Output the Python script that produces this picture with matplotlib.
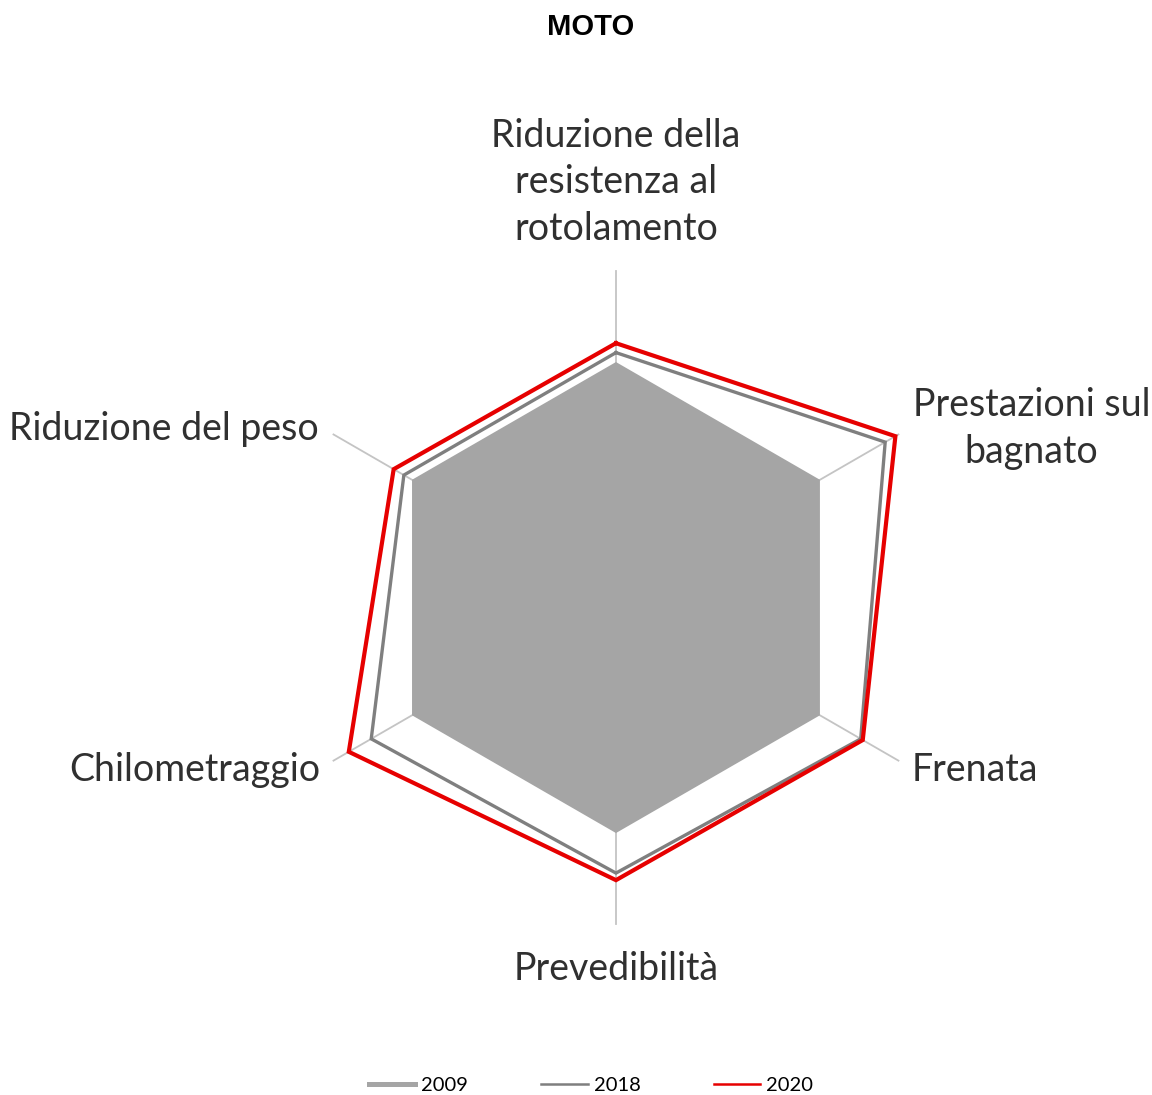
import matplotlib
matplotlib.use("Agg")
import matplotlib.pyplot as plt
import numpy as np
from matplotlib.lines import Line2D

# categories, clockwise from the top
categories = [
    "Riduzione della\nresistenza al\nrotolamento",
    "Prestazioni sul\nbagnato",
    "Frenata",
    "Prevedibilità",
    "Chilometraggio",
    "Riduzione del peso",
]
years = ["2009", "2018", "2020"]
v2009 = [100, 100, 100, 100, 100, 100]
v2018 = [104, 132, 120, 117, 120, 104]
v2020 = [108, 137, 121, 120, 131, 109]
rmax = 140

c2009 = "#a5a5a5"
c2018 = "#7f7f7f"
c2020 = "#e60000"
txt = "#303030"

fig = plt.figure(figsize=(11.52, 10.95), dpi=100)
ax = fig.add_axes([0.2485, 0.1532, 0.5724, 0.6022], projection="polar")
ax.set_theta_zero_location("N")
ax.set_theta_direction(-1)
ax.set_ylim(0, rmax)
ax.grid(False)
ax.set_xticks([])
ax.set_yticks([])
ax.spines["polar"].set_visible(False)
ax.patch.set_alpha(0)

angles = np.linspace(0, 2 * np.pi, len(categories), endpoint=False)

def closed(v):
    return np.append(angles, angles[0]), np.append(v, v[0])

# spokes
for a in angles:
    ax.plot([a, a], [0, rmax - 1.5], color="#c4c4c4", lw=1.3, zorder=1)

t, r = closed(v2009)
ax.fill(t, r, color=c2009, lw=0, zorder=2)
t, r = closed(v2018)
ax.plot(t, r, color=c2018, lw=2.4, solid_joinstyle="miter", zorder=3)
t, r = closed(v2020)
ax.plot(t, r, color=c2020, lw=3.0, solid_joinstyle="miter", zorder=4)

# category labels around the axis ends
label_style = [
    ((0, 21), "center", "bottom"),
    ((11, 4), "left", "center"),
    ((10, -8), "left", "center"),
    ((0, -24), "center", "top"),
    ((-10, -8), "right", "center"),
    ((-12, 4), "right", "center"),
]
for a, lab, (off, ha, va) in zip(angles, categories, label_style):
    ax.annotate(lab, xy=(a, rmax), xytext=off, textcoords="offset pixels",
                ha=ha, va=va, multialignment="center", fontsize=27,
                family="Lato", color=txt, linespacing=1.36,
                annotation_clip=False)

fig.text(0.513, 1 - 27 / 1095, "MOTO", ha="center", va="center",
         fontsize=21, fontweight="bold", family="Liberation Sans")

handles = [
    Line2D([], [], color=c2009, lw=3.6),
    Line2D([], [], color=c2018, lw=1.8),
    Line2D([], [], color=c2020, lw=1.8),
]
fig.legend(handles, years, loc="center", bbox_to_anchor=(0.513, 0.0085),
           ncol=3, frameon=False, prop={"family": "Lato", "size": 14.5},
           handlelength=2.3, handletextpad=0.3, columnspacing=3.65,
           borderaxespad=0, borderpad=0)

fig.savefig("out.png", dpi=100)
